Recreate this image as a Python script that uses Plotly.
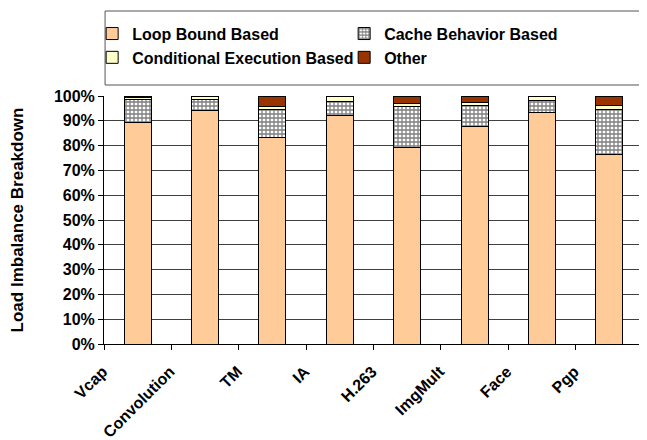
import plotly.graph_objects as go

categories = ["Vcap", "Convolution", "TM", "IA", "H.263", "ImgMult", "Face", "Pgp"]
loop_bound = [89.5, 94.2, 83.3, 92.0, 79.2, 87.8, 93.2, 76.6]
cache_behavior = [9.0, 4.3, 11.4, 5.7, 16.7, 8.2, 4.8, 17.9]
conditional = [1.0, 1.5, 1.2, 2.0, 1.2, 1.5, 1.8, 1.8]
other = [0.5, 0.0, 4.1, 0.3, 2.9, 2.5, 0.2, 3.7]
y_ticks = [0, 10, 20, 30, 40, 50, 60, 70, 80, 90, 100]
y_tick_labels = ["0%", "10%", "20%", "30%", "40%", "50%", "60%", "70%", "80%", "90%", "100%"]

FONT = "Liberation Sans, Arial, sans-serif"

fig = go.Figure()
line = dict(color="black", width=1)
fig.add_trace(go.Bar(name="Loop Bound Based", x=categories, y=loop_bound,
                     marker=dict(color="#FFCC99", line=line)))
fig.add_trace(go.Bar(name="Cache Behavior Based", x=categories, y=cache_behavior,
                     marker=dict(color="white", line=line,
                                 pattern=dict(shape="+", size=4, solidity=0.55,
                                              fgcolor="black", bgcolor="white"))))
fig.add_trace(go.Bar(name="Conditional Execution Based", x=categories, y=conditional,
                     marker=dict(color="#FFFFCC", line=line)))
fig.add_trace(go.Bar(name="Other", x=categories, y=other,
                     marker=dict(color="#993300", line=line)))

# the page body adds an 8px offset; size the figure so the plot lands where the reference has it
fig.update_layout(
    width=639, height=432,
    barmode="stack", bargap=0.6,
    paper_bgcolor="white", plot_bgcolor="white",
    margin=dict(l=96, r=4, t=88, b=96, autoexpand=False),
    font=dict(family=FONT, size=16, color="black", weight="bold"),
    legend=dict(orientation="h", x=-0.022, xanchor="left", y=1.32, yanchor="top",
                traceorder="normal",
                entrywidth=207, entrywidthmode="pixels", itemwidth=30,
                font=dict(family=FONT, size=16, color="black", weight="bold"),
                bgcolor="rgba(0,0,0,0)", borderwidth=0),
    showlegend=True,
    shapes=[
        dict(type="rect", xref="paper", yref="paper", x0=0.002, x1=1.002,
             y0=1.0 + (96 - 85) / 248, y1=1.0 + (96 - 11) / 248,
             line=dict(color="#555555", width=1), fillcolor="rgba(0,0,0,0)", layer="above"),
        dict(type="line", xref="paper", yref="paper", x0=1, x1=1, y0=0, y1=1,
             line=dict(color="#AAAAAA", width=1)),
    ],
)
fig.update_xaxes(
    type="category", tickangle=-45, showline=True, linecolor="black", linewidth=1,
    ticks="outside", tickson="boundaries", ticklen=5, tickcolor="black",
    showgrid=False, automargin=False,
    ticklabelstandoff=11, ticklabelshift=-35,
    tickfont=dict(family=FONT, size=16, weight="bold"),
)
fig.update_yaxes(
    range=[0, 100], tickvals=y_ticks, ticktext=y_tick_labels,
    showline=True, linecolor="black", linewidth=1,
    ticks="outside", ticklen=5, tickcolor="black",
    showgrid=True, gridcolor="#404040", gridwidth=1, automargin=True,
    tickfont=dict(family=FONT, size=16, weight="bold"),
    title=dict(text="Load Imbalance Breakdown", standoff=26,
               font=dict(family=FONT, size=17, weight="bold")),
)

fig.write_html("out.html")
